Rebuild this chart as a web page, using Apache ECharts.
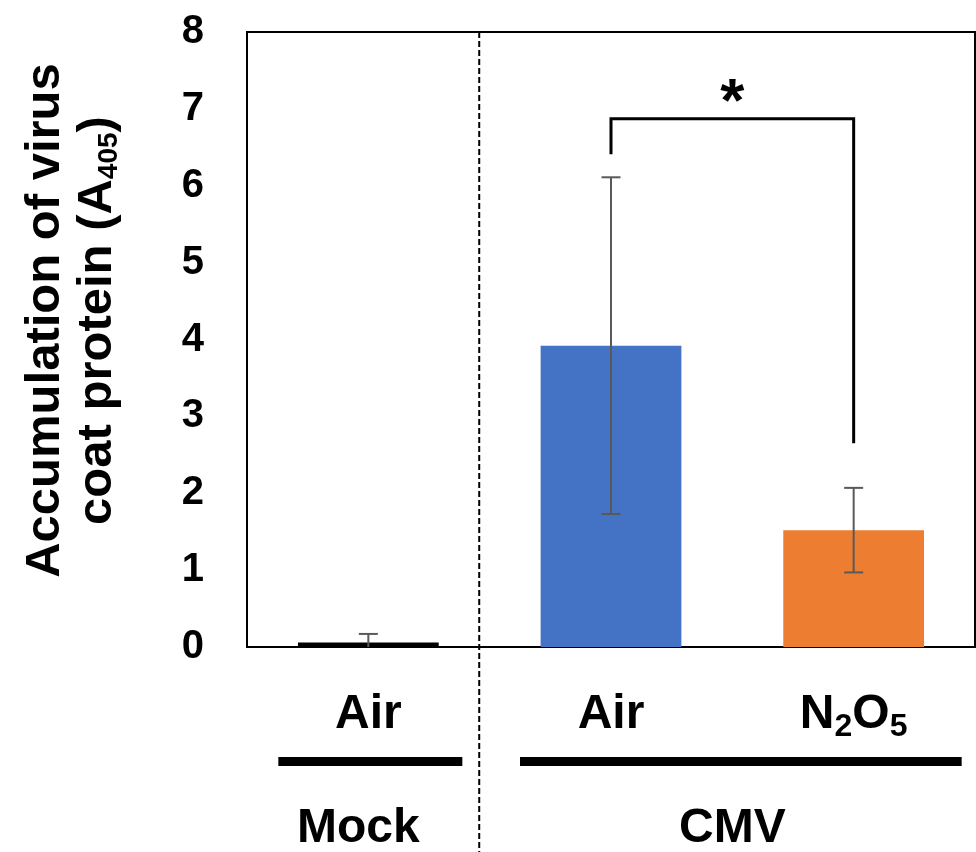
<!DOCTYPE html>
<html><head><meta charset="utf-8">
<script src="https://cdn.jsdelivr.net/npm/echarts@6/dist/echarts.min.js"></script>
<style>html,body{margin:0;padding:0;background:#fff}#c{width:976px;height:852px}</style>
</head><body><div id="c"></div>
<script>
// ---- data ----
const groups = ['Mock', 'CMV', 'CMV'];
const groupNames = ['Mock', 'CMV'];
const treatments = ['Air', 'Air', 'N2O5'];
const means = [0.06, 3.92, 1.52];
const errors = [0.11, 2.19, 0.55];
const barColors = ['#000000', '#4472C4', '#ED7D31'];
const yMin = 0, yMax = 8, yStep = 1;
const sigPair = [1, 2];
const sigTop = 6.87, sigLeftBottom = 6.41, sigRightBottom = 2.65;
const sigLabel = '*';

// ---- chart ----
const FONT = '"Liberation Sans", Arial, Helvetica, sans-serif';
const chart = echarts.init(document.getElementById('c'), null, { renderer: 'canvas' });
const cats = treatments.map((t, i) => groups[i] + ' ' + t);

function richTreat(t) {
  if (t === 'N2O5') return '{m|N}{s|2}{m|O}{s|5}';
  return '{m|' + t + '}';
}
const bigRich = {
  m: { fontSize: 48, fontWeight: 'bold', fontFamily: FONT, color: '#000', lineHeight: 56 },
  s: { fontSize: 32, fontWeight: 'bold', fontFamily: FONT, color: '#000', lineHeight: 28, verticalAlign: 'bottom' }
};

const errData = means.map((m, i) => [i, m, errors[i]]);
const sigData = [[sigPair[0], sigPair[1], sigTop, sigLeftBottom, sigRightBottom]];

chart.setOption({
  animation: false,
  backgroundColor: '#fff',
  grid: { left: 247, right: 1, top: 32, bottom: 205, show: true, borderColor: '#000', borderWidth: 2, backgroundColor: 'transparent' },
  xAxis: {
    type: 'category', data: cats,
    axisLine: { show: true, lineStyle: { color: '#000', width: 2 } },
    axisTick: { show: false },
    axisLabel: {
      margin: 40, interval: 0,
      formatter: (v, i) => richTreat(treatments[i]),
      rich: bigRich
    }
  },
  yAxis: {
    type: 'value', min: yMin, max: yMax, interval: yStep,
    axisLine: { show: true, lineStyle: { color: '#000', width: 2 } },
    axisTick: { show: false },
    splitLine: { show: false },
    axisLabel: { fontSize: 40, fontWeight: 'bold', fontFamily: FONT, color: '#000', margin: 43 },
    name: '{m|Accumulation of virus}\n{m|coat protein (A}{s|405}{m|)}',
    nameLocation: 'middle', nameRotate: 90, nameGap: 124,
    nameTextStyle: {
      padding: [0, 0, 0, 38],
      rich: {
        m: { fontSize: 49, fontWeight: 'bold', fontFamily: FONT, color: '#000', lineHeight: 52 },
        s: { fontSize: 28, fontWeight: 'bold', fontFamily: FONT, color: '#000', lineHeight: 26, verticalAlign: 'bottom' }
      }
    }
  },
  series: [
    {
      type: 'bar', barWidth: '58%',
      data: means.map((m, i) => ({ value: m, itemStyle: { color: barColors[i] } })),
      z: 2
    },
    {
      type: 'custom', z: 5,
      data: errData,
      renderItem: function (params, api) {
        const i = api.value(0), m = api.value(1), e = api.value(2);
        const top = api.coord([i, m + e]);
        const lowV = m - e;
        const bot = api.coord([i, Math.max(lowV, 0)]);
        const hw = 9.5;
        const st = { stroke: '#595959', lineWidth: 2 };
        const ch = [
          { type: 'line', shape: { x1: top[0], y1: top[1], x2: bot[0], y2: bot[1] }, style: st },
          { type: 'line', shape: { x1: top[0] - hw, y1: top[1], x2: top[0] + hw, y2: top[1] }, style: st }
        ];
        if (lowV > 0) ch.push({ type: 'line', shape: { x1: bot[0] - hw, y1: bot[1], x2: bot[0] + hw, y2: bot[1] }, style: st });
        return { type: 'group', children: ch };
      }
    },
    {
      type: 'custom', z: 6,
      data: sigData,
      renderItem: function (params, api) {
        const a = api.value(0), b = api.value(1), t = api.value(2), lb = api.value(3), rb = api.value(4);
        const p1 = api.coord([a, lb]), p2 = api.coord([a, t]), p3 = api.coord([b, t]), p4 = api.coord([b, rb]);
        return {
          type: 'group', children: [
            { type: 'polyline', shape: { points: [p1, p2, p3, p4] }, style: { stroke: '#000', lineWidth: 3, fill: null, lineJoin: 'miter' } },
            { type: 'text', x: (p2[0] + p3[0]) / 2, y: p2[1] + 16, style: { text: sigLabel, fontSize: 62, fontWeight: 'bold', fontFamily: FONT, fill: '#000', align: 'center', verticalAlign: 'bottom' } }
          ]
        };
      }
    }
  ]
});

// decorations placed from axis pixel positions
const px = cats.map((c, i) => chart.convertToPixel({ xAxisIndex: 0 }, i));
const yTopPx = chart.convertToPixel({ yAxisIndex: 0 }, yMax);
const dashX = px[0] + 0.457 * (px[1] - px[0]);
const lineY = 761.5, textY = 829;
const mockL = px[0] - 90, mockR = px[0] + 94;
const cmvL = px[1] - 91, cmvR = px[2] + 108;
chart.setOption({
  graphic: [
    { type: 'line', z: 10, shape: { x1: dashX, y1: yTopPx, x2: dashX, y2: 852 }, style: { stroke: '#000', lineWidth: 2, lineDash: [6, 3] } },
    { type: 'line', z: 10, shape: { x1: mockL, y1: lineY, x2: mockR, y2: lineY }, style: { stroke: '#000', lineWidth: 9 } },
    { type: 'line', z: 10, shape: { x1: cmvL, y1: lineY, x2: cmvR, y2: lineY }, style: { stroke: '#000', lineWidth: 9 } },
    { type: 'text', z: 10, x: px[0] - 10, y: textY, style: { text: groupNames[0], fontSize: 48, fontWeight: 'bold', fontFamily: FONT, fill: '#000', align: 'center', verticalAlign: 'middle' } },
    { type: 'text', z: 10, x: (px[1] + px[2]) / 2, y: textY, style: { text: groupNames[1], fontSize: 48, fontWeight: 'bold', fontFamily: FONT, fill: '#000', align: 'center', verticalAlign: 'middle' } }
  ]
});
</script>
</body></html>
